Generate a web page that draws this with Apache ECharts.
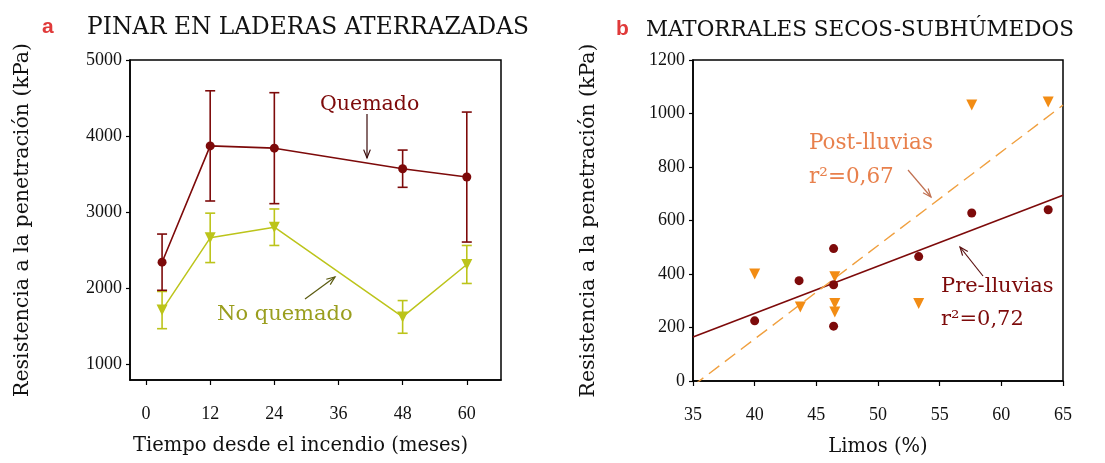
<!DOCTYPE html>
<html><head><meta charset="utf-8">
<script src="https://cdn.jsdelivr.net/npm/echarts@6/dist/echarts.min.js"></script>
<style>html,body{margin:0;padding:0;background:#fff}#c{width:1105px;height:463px}</style>
</head><body><div id="c"></div>
<script>
// ---- Panel a data ----
const months = [3, 12, 24, 48, 60];
const quemadoMean = [2340, 3870, 3840, 3570, 3460];
const quemadoErr = [370, 725, 730, 245, 855];
const noQuemadoMean = [1710, 2660, 2800, 1620, 2310];
const noQuemadoErr = [245, 325, 240, 215, 250];
const monthTicks = [0, 12, 24, 36, 48, 60];
const kpaTicksA = [1000, 2000, 3000, 4000, 5000];

// ---- Panel b data ----
const limosPre = [40, 43.6, 46.4, 46.4, 46.4, 53.3, 57.6, 63.8];
const kpaPre = [225, 375, 495, 360, 205, 465, 628, 640];
const limosPost = [40, 43.7, 46.5, 46.5, 46.5, 53.3, 57.6, 63.8];
const kpaPost = [400, 277, 390, 290, 258, 290, 1032, 1043];

const DARK = '#7d0a0a';
const GREEN = '#bcc41a';
const GREEN_TXT = '#9a9e1e';
const ORANGE = '#f28c14';
const ORANGE_LINE = '#f0a040';
const ORANGE_TXT = '#e8804c';
const SERIF = "'DejaVu Serif', serif";
const TICKF = "'Liberation Serif', serif";

function fit(xs, ys, x0, x1) {
  const n = xs.length;
  const mx = xs.reduce((a, b) => a + b, 0) / n;
  const my = ys.reduce((a, b) => a + b, 0) / n;
  let sxy = 0, sxx = 0;
  for (let i = 0; i < n; i++) { sxy += (xs[i] - mx) * (ys[i] - my); sxx += (xs[i] - mx) ** 2; }
  const b = sxy / sxx, a = my - b * mx;
  return [[x0, a + b * x0], [x1, a + b * x1]];
}

function errSeries(gi, xs, means, errs, color) {
  return {
    type: 'custom', xAxisIndex: gi, yAxisIndex: gi, z: 3,
    data: xs.map((x, i) => [x, means[i] - errs[i], means[i] + errs[i]]),
    encode: { x: 0, y: [1, 2] },
    renderItem(params, api) {
      const x = api.value(0);
      const lo = api.coord([x, api.value(1)]);
      const hi = api.coord([x, api.value(2)]);
      const w = 5, st = { stroke: color, lineWidth: 1.6 };
      return { type: 'group', children: [
        { type: 'line', shape: { x1: lo[0], y1: lo[1], x2: hi[0], y2: hi[1] }, style: st },
        { type: 'line', shape: { x1: lo[0] - w, y1: lo[1], x2: lo[0] + w, y2: lo[1] }, style: st },
        { type: 'line', shape: { x1: hi[0] - w, y1: hi[1], x2: hi[0] + w, y2: hi[1] }, style: st }
      ]};
    }
  };
}

function arrow(x1, y1, x2, y2, color) {
  const ang = Math.atan2(y2 - y1, x2 - x1), L = 9, a = 0.38;
  const p1 = [x2 - L * Math.cos(ang - a), y2 - L * Math.sin(ang - a)];
  const p2 = [x2 - L * Math.cos(ang + a), y2 - L * Math.sin(ang + a)];
  return { type: 'group', children: [
    { type: 'line', shape: { x1, y1, x2, y2 }, style: { stroke: color, lineWidth: 1.2 } },
    { type: 'polyline', shape: { points: [p1, [x2, y2], p2] }, style: { stroke: color, lineWidth: 1.2, fill: null } }
  ]};
}

function txt(x, y, s, color, size) {
  return { type: 'text', x, y, style: { text: s, fill: color, font: size + 'px ' + SERIF, textVerticalAlign: 'middle' } };
}

const plain = v => String(v);
const axisLine = { show: true, onZero: false, lineStyle: { color: '#000', width: 1.5 } };
const tickLine = { color: '#000', width: 1.2 };
const labelStyle = { color: '#111', fontFamily: TICKF, fontSize: 18, formatter: plain };
const nameStyle = { color: '#111', fontFamily: SERIF, fontSize: 19.5 };
const yNameStyle = { color: '#111', fontFamily: SERIF, fontSize: 20.5 };

const chart = echarts.init(document.getElementById('c'), null, { renderer: 'canvas' });
chart.setOption({
  animation: false,
  backgroundColor: '#fff',
  grid: [
    { left: 130, top: 60, width: 371, height: 320, show: true, borderColor: '#000', borderWidth: 1.5, backgroundColor: 'transparent' },
    { left: 693, top: 60, width: 370, height: 321, show: true, borderColor: '#000', borderWidth: 1.5, backgroundColor: 'transparent' }
  ],
  xAxis: [
    { type: 'value', gridIndex: 0, min: -3, max: 66.4, axisLine,
      axisTick: { show: true, length: 5, lineStyle: tickLine, customValues: monthTicks },
      axisLabel: { ...labelStyle, margin: 25, customValues: monthTicks }, splitLine: { show: false },
      name: 'Tiempo desde el incendio (meses)', nameLocation: 'middle', nameGap: 56,
      nameTextStyle: { ...nameStyle, padding: [0, 30, 0, 0] } },
    { type: 'value', gridIndex: 1, min: 35, max: 65, interval: 5, axisLine,
      axisTick: { show: true, length: 5, lineStyle: tickLine },
      axisLabel: { ...labelStyle, margin: 25 }, splitLine: { show: false },
      name: 'Limos (%)', nameLocation: 'middle', nameGap: 56, nameTextStyle: nameStyle }
  ],
  yAxis: [
    { type: 'value', gridIndex: 0, min: 790, max: 5000, axisLine,
      axisTick: { show: true, length: 4, lineStyle: tickLine, customValues: kpaTicksA },
      axisLabel: { ...labelStyle, margin: 8, customValues: kpaTicksA }, splitLine: { show: false },
      name: 'Resistencia a la penetración (kPa)', nameLocation: 'middle', nameGap: 97, nameTextStyle: yNameStyle },
    { type: 'value', gridIndex: 1, min: 0, max: 1200, interval: 200, axisLine,
      axisTick: { show: true, length: 4, lineStyle: tickLine },
      axisLabel: { ...labelStyle, margin: 8 }, splitLine: { show: false },
      name: 'Resistencia a la penetración (kPa)', nameLocation: 'middle', nameGap: 94, nameTextStyle: yNameStyle }
  ],
  series: [
    errSeries(0, months, noQuemadoMean, noQuemadoErr, GREEN),
    errSeries(0, months, quemadoMean, quemadoErr, DARK),
    { type: 'line', xAxisIndex: 0, yAxisIndex: 0, z: 4, data: months.map((m, i) => [m, noQuemadoMean[i]]),
      symbol: 'triangle', symbolRotate: 180, symbolSize: 11, itemStyle: { color: GREEN },
      lineStyle: { color: GREEN, width: 1.5 } },
    { type: 'line', xAxisIndex: 0, yAxisIndex: 0, z: 5, data: months.map((m, i) => [m, quemadoMean[i]]),
      symbol: 'circle', symbolSize: 9, itemStyle: { color: DARK },
      lineStyle: { color: DARK, width: 1.6 } },
    { type: 'line', xAxisIndex: 1, yAxisIndex: 1, z: 2, data: fit(limosPre, kpaPre, 35, 65), symbol: 'none',
      lineStyle: { color: DARK, width: 1.6 }, clip: true },
    { type: 'line', xAxisIndex: 1, yAxisIndex: 1, z: 2, data: fit(limosPost, kpaPost, 35, 65), symbol: 'none',
      lineStyle: { color: ORANGE_LINE, width: 1.4, type: [13, 7] }, clip: true },
    { type: 'scatter', xAxisIndex: 1, yAxisIndex: 1, z: 4, data: limosPost.map((x, i) => [x, kpaPost[i]]),
      symbol: 'triangle', symbolRotate: 180, symbolSize: 11, itemStyle: { color: ORANGE, opacity: 1 } },
    { type: 'scatter', xAxisIndex: 1, yAxisIndex: 1, z: 5, data: limosPre.map((x, i) => [x, kpaPre[i]]),
      symbol: 'circle', symbolSize: 9, itemStyle: { color: DARK, opacity: 1 } }
  ],
  graphic: [
    { type: 'text', x: 42, y: 27, style: { text: 'a', fill: '#e03a3a', font: 'bold 21px "Liberation Sans", sans-serif', textVerticalAlign: 'middle' } },
    txt(87, 28, 'PINAR EN LADERAS ATERRAZADAS', '#111', 23.3),
    { type: 'text', x: 616, y: 29, style: { text: 'b', fill: '#e03a3a', font: 'bold 21px "Liberation Sans", sans-serif', textVerticalAlign: 'middle' } },
    txt(646, 30, 'MATORRALES SECOS-SUBHÚMEDOS', '#111', 21.5),
    txt(320, 105, 'Quemado', DARK, 20.5),
    arrow(367, 114, 367, 158, '#3a0a0a'),
    txt(217, 315, 'No quemado', GREEN_TXT, 21),
    arrow(305, 299, 335, 277, '#5a5a10'),
    txt(809, 143, 'Post-lluvias', ORANGE_TXT, 21.5),
    txt(809, 177, 'r²=0,67', ORANGE_TXT, 21.5),
    arrow(908, 170, 931, 197, '#c07050'),
    txt(941, 287, 'Pre-lluvias', DARK, 21),
    txt(941, 320, 'r²=0,72', DARK, 21),
    arrow(983, 276, 960, 247, '#5a1010')
  ]
});
</script>
</body></html>
